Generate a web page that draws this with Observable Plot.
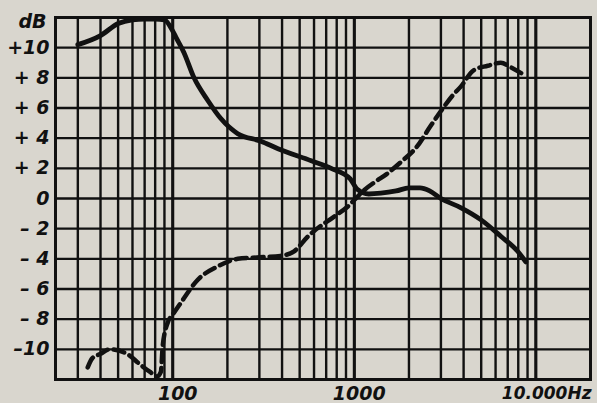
<!DOCTYPE html>
<html>
<head>
<meta charset="utf-8">
<script src="https://cdn.jsdelivr.net/npm/d3@7"></script>
<script src="https://cdn.jsdelivr.net/npm/@observablehq/plot@0.6"></script>
<style>
  html, body { margin: 0; padding: 0; background: #d9d6ce; }
  #chart svg { display: block; }
</style>
</head>
<body>
<div id="chart"></div>
<script>
// Grid (log frequency, dB)
const gridFreq = [30, 40, 50, 60, 70, 80, 90, 100, 200, 300, 400, 500, 600, 700, 800, 900, 1000,
                  2000, 3000, 4000, 5000, 6000, 7000, 8000, 9000, 10000];
const majorFreq = [100, 1000, 10000];
const gridDb = [-10, -8, -6, -4, -2, 0, 2, 4, 6, 8, 10];

// Tick labels
const yTickValues = [10, 8, 6, 4, 2, 0, -2, -4, -6, -8, -10];
const yTickLabels = ["+10", "+ 8", "+ 6", "+ 4", "+ 2", "0", "– 2", "– 4", "– 6", "– 8", "–10"];
const xTickValues = [100, 1000];
const xTickLabels = ["100", "1000"];
const xLastValue = [10000];
const xLastLabel = ["10.000Hz"];

// Solid curve
const solidFreq = [30, 40, 50, 60, 70, 80, 90, 100, 104, 115, 131, 156, 184, 228, 306, 380, 579, 746, 950, 1040,
                   1200, 1400, 1700, 2000, 2300, 2600, 3000, 3850, 4970, 6410, 7940, 8800];
const solidDb = [10.2, 10.8, 11.6, 11.85, 11.9, 11.9, 11.85, 11.1, 10.7, 9.7, 8.0, 6.5, 5.3, 4.3, 3.8, 3.3, 2.5, 2.0, 1.3, 0.6,
                 0.3, 0.35, 0.5, 0.7, 0.7, 0.5, 0.0, -0.6, -1.4, -2.5, -3.5, -4.2];

// Dashed curve
const dashFreq = [34, 36, 40, 45, 56, 66, 75, 82, 86, 88, 94, 100, 111, 137, 177, 228, 300, 395, 466, 557, 594,
                  775, 927, 1000, 1120, 1300, 1500, 1800, 2200, 2630, 3000, 3520, 3850, 4540, 5430, 6410, 7280, 8590];
const dashDb = [-11.2, -10.6, -10.3, -10.0, -10.3, -11.0, -11.5, -11.8, -11.5, -9.8, -8.2, -7.7, -6.9, -5.4, -4.5, -4.0, -3.9, -3.8, -3.5, -2.5, -2.2,
                -1.2, -0.5, -0.1, 0.5, 1.1, 1.6, 2.4, 3.4, 4.8, 5.8, 6.9, 7.4, 8.5, 8.8, 9.0, 8.7, 8.2];

const solid = solidFreq.map((f, i) => ({f, db: solidDb[i]}));
const dashed = dashFreq.map((f, i) => ({f, db: dashDb[i]}));
const yTicks = yTickValues.map((v, i) => ({v, t: yTickLabels[i]}));
const xTicks = xTickValues.map((v, i) => ({v, t: xTickLabels[i]}));
const xLast = xLastValue.map((v, i) => ({v, t: xLastLabel[i]}));

const font = "DejaVu Sans";
const xMin = 22.6, xMax = 20000;

const chart = Plot.plot({
  width: 597,
  height: 403,
  marginLeft: 55,
  marginRight: 7,
  marginTop: 17,
  marginBottom: 24,
  style: {background: "#d9d6ce", fontFamily: font},
  x: {type: "log", domain: [xMin, xMax], axis: null},
  y: {domain: [-12, 12], axis: null},
  marks: [
    Plot.ruleX(gridFreq, {stroke: "#111", strokeWidth: 2.4}),
    Plot.ruleX(majorFreq, {stroke: "#111", strokeWidth: 3}),
    Plot.ruleY(gridDb, {stroke: "#111", strokeWidth: 2.4}),
    Plot.frame({stroke: "#111", strokeWidth: 3}),
    Plot.line(solid, {x: "f", y: "db", curve: "monotone-x", stroke: "#111", strokeWidth: 4.8, strokeLinecap: "round"}),
    Plot.line(dashed, {x: "f", y: "db", curve: "monotone-x", stroke: "#111", strokeWidth: 4.5, strokeDasharray: "11,6"}),
    Plot.text(yTicks, {x: () => xMin, y: "v", text: "t", textAnchor: "end", dx: -6, fontSize: 19, fontWeight: "bold", fontStyle: "italic", fill: "#111"}),
    Plot.text(["dB"], {x: () => xMin, y: () => 12, text: d => d, textAnchor: "end", dx: -9, dy: 4, fontSize: 19, fontWeight: "bold", fontStyle: "italic", fill: "#111"}),
    Plot.text(xTicks, {x: "v", y: () => -12, text: "t", dx: 5, dy: 14, fontSize: 19, fontWeight: "bold", fontStyle: "italic", fill: "#111"}),
    Plot.text(xLast, {x: "v", y: () => -12, text: "t", textAnchor: "start", dx: -34, dy: 14, fontSize: 17, fontWeight: "bold", fontStyle: "italic", fill: "#111", letterSpacing: "-0.5px"})
  ]
});
document.getElementById("chart").appendChild(chart);
</script>
</body>
</html>
